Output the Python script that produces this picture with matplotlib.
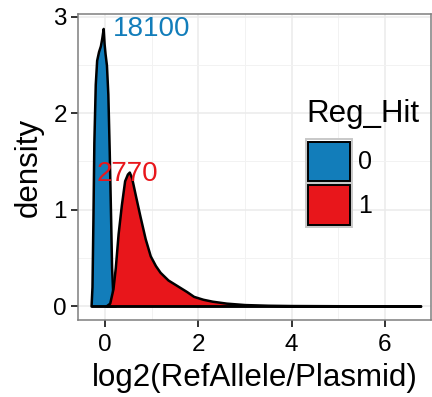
import matplotlib
matplotlib.use("Agg")
import matplotlib.pyplot as plt
from matplotlib.patches import Patch, Rectangle
from matplotlib.legend_handler import HandlerBase
from matplotlib.ticker import MultipleLocator

plt.rcParams['font.family'] = ['Liberation Sans', 'DejaVu Sans']

# Data
blue_x = [-0.30, -0.28, -0.26, -0.24, -0.21, -0.18, -0.14, -0.10, -0.07, -0.04,
          -0.02, 0.00, 0.03, 0.06, 0.09, 0.12, 0.14, 0.17, 0.22]
blue_y = [0.0, 0.2, 0.9, 1.7, 2.3, 2.55, 2.64, 2.7, 2.78, 2.88,
          2.72, 2.62, 2.5, 2.2, 1.6, 0.9, 0.4, 0.08, 0.0]

red_x = [0.02, 0.10, 0.17, 0.22, 0.28, 0.35, 0.42, 0.48, 0.52, 0.57, 0.65, 0.75,
         0.86, 0.97, 1.08, 1.18, 1.35, 1.55, 1.75, 1.90, 2.10, 2.30, 2.60, 3.00,
         3.50, 4.00, 5.00, 6.00, 6.77]
red_y = [0.0, 0.03, 0.18, 0.40, 0.75, 1.05, 1.30, 1.37, 1.39, 1.33, 1.15, 0.93,
         0.70, 0.52, 0.42, 0.35, 0.27, 0.21, 0.15, 0.10, 0.07, 0.05, 0.03, 0.015,
         0.008, 0.005, 0.003, 0.002, 0.0]

groups = ['0', '1']
counts = ['18100', '2770']
label_x = [0.99, 0.49]
label_y = [2.87, 1.37]
colors = ['#127DBA', '#E8161B']


class KeyHandler(HandlerBase):
    """ggplot-like legend key: grey-bordered cell with a black-edged fill."""
    def legend_artist(self, legend, orig_handle, fontsize, handlebox):
        x0, y0 = -handlebox.xdescent, -handlebox.ydescent
        w = handlebox.width
        h = handlebox.height
        cell = Rectangle((x0, y0), w, h, facecolor='white', edgecolor='#c8c8c8',
                         linewidth=1.4, transform=handlebox.get_transform())
        inset = 1.6
        key = Rectangle((x0 + inset, y0 + inset), w - 2 * inset, h - 2 * inset,
                        facecolor=orig_handle.get_facecolor(), edgecolor='black',
                        linewidth=1.4, transform=handlebox.get_transform())
        handlebox.add_artist(cell)
        handlebox.add_artist(key)
        return key


fig = plt.figure(figsize=(4.32, 3.97), dpi=100)
ax = fig.add_axes([78/432, 1 - 320/397, (431 - 78)/432, (320 - 14)/397])

ax.fill_between(blue_x, blue_y, 0, facecolor=colors[0], edgecolor='black', linewidth=1.8, zorder=3)
ax.fill_between(red_x, red_y, 0, facecolor=colors[1], edgecolor='black', linewidth=1.8, zorder=4)
ax.plot([blue_x[0], red_x[-1]], [0, 0], color='black', linewidth=1.8, zorder=5, solid_capstyle='butt')

for t, x, y, c in zip(counts, label_x, label_y, colors):
    ax.text(x, y, t, color=c, fontsize=20, ha='center', va='center', zorder=6)

ax.set_xlim(-0.58, 6.99)
ax.set_ylim(-0.145, 3.03)
ax.xaxis.set_major_locator(MultipleLocator(2))
ax.xaxis.set_minor_locator(MultipleLocator(1))
ax.yaxis.set_major_locator(MultipleLocator(1))
ax.yaxis.set_minor_locator(MultipleLocator(0.5))
ax.grid(which='major', color='#ebebeb', linewidth=1.1, zorder=0)
ax.grid(which='minor', color='#f2f2f2', linewidth=0.7, zorder=0)
ax.set_axisbelow(True)
ax.tick_params(which='major', length=5, width=1.4, color='#333333', labelsize=17.5, labelcolor='black')
ax.tick_params(axis='x', pad=5)
ax.tick_params(axis='y', pad=3)
ax.tick_params(which='minor', length=0)
for s in ax.spines.values():
    s.set_color('#7f7f7f')
    s.set_linewidth(1.1)

ax.set_xlabel('log2(RefAllele/Plasmid)', fontsize=22.5, labelpad=5)
ax.set_ylabel('density', fontsize=22.5, labelpad=7)

handles = [Patch(facecolor=c) for c in colors]
leg = ax.legend(handles, groups, title='Reg_Hit', fontsize=18, title_fontsize=22.5,
                handler_map={Patch: KeyHandler()},
                loc='upper left', bbox_to_anchor=(0.632, 0.739), borderaxespad=0,
                frameon=False, handlelength=1.84, handleheight=2.33, labelspacing=0.0,
                handletextpad=0.25, borderpad=0.2, alignment='left')
leg._legend_box.sep = 7.5

fig.savefig('out.png', dpi=100)
